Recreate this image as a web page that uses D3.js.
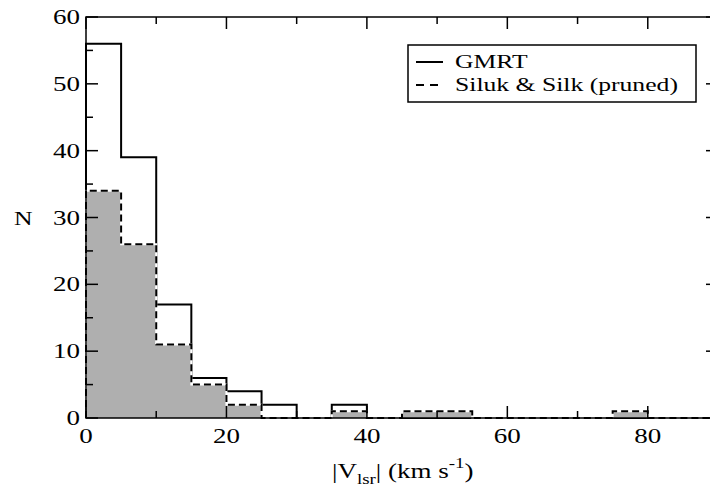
<!DOCTYPE html>
<html><head><meta charset="utf-8">
<script src="https://cdn.jsdelivr.net/npm/d3@7"></script>
<style>body{margin:0;background:#fff}svg{display:block}text{font-family:"Liberation Serif","Times New Roman",serif;fill:#000}</style>
</head><body>
<svg id="c" width="710" height="499"></svg>
<script>
const binEdges = [0,5,10,15,20,25,30,35,40,45,50,55,60,65,70,75,80,85,90];
const gmrtCounts = [56,39,17,6,4,2,0,2,0,0,0,0,0,0,0,0,0,0];
const silukCounts = [34,26,11,5,2,0,0,1,0,1,1,0,0,0,0,1,0,0];
const xTicks = [0,20,40,60,80];
const yTicks = [0,10,20,30,40,50,60];
const legendLabels = ["GMRT","Siluk & Silk (pruned)"];
const xLabelParts = ["|V","lsr","| (km s","-1",")"];
const yLabel = "N";

const SX = 1.35;
const svg = d3.select("#c");
const x = d3.scaleLinear().domain([0,90]).range([86,718]);
const y = d3.scaleLinear().domain([0,60]).range([418,17]);

function stepPts(counts){
  const p=[[binEdges[0],0]];
  counts.forEach((c,i)=>{p.push([binEdges[i],c]);p.push([binEdges[i+1],c]);});
  p.push([binEdges[binEdges.length-1],0]);
  return p;
}
const line = d3.line().x(d=>x(d[0])).y(d=>y(d[1]));

// GMRT
svg.append("path").attr("d",line(stepPts(gmrtCounts))).attr("fill","none").attr("stroke","#000").attr("stroke-width",2);
// Siluk fill
svg.append("path").attr("d",line(stepPts(silukCounts))+"Z").attr("fill","#afafaf").attr("stroke","none");
svg.append("path").attr("d",line(stepPts(silukCounts))).attr("fill","none").attr("stroke","#fff").attr("stroke-width",2);
svg.append("path").attr("d",line(stepPts(silukCounts))).attr("fill","none").attr("stroke","#000").attr("stroke-width",2).attr("stroke-dasharray","7,4");

// frame
svg.append("rect").attr("x",x(0)).attr("y",y(60)).attr("width",x(90)-x(0)).attr("height",y(0)-y(60))
  .attr("fill","none").attr("stroke","#000").attr("stroke-width",1.5);

// ticks
const tg = svg.append("g").attr("stroke","#000").attr("stroke-width",1.5);
d3.range(0,91,10).forEach(v=>{
  const L = v%20===0?12:7;
  tg.append("line").attr("x1",x(v)).attr("x2",x(v)).attr("y1",y(0)).attr("y2",y(0)-L);
  tg.append("line").attr("x1",x(v)).attr("x2",x(v)).attr("y1",y(60)).attr("y2",y(60)+L);
});
d3.range(0,61,5).forEach(v=>{
  const L = v%10===0?12:7;
  tg.append("line").attr("x1",x(0)).attr("x2",x(0)+L).attr("y1",y(v)).attr("y2",y(v));
  tg.append("line").attr("x1",x(90)).attr("x2",x(90)-L).attr("y1",y(v)).attr("y2",y(v));
});

function txt(px,py,s,size,anchor){
  return svg.append("text").attr("transform",`translate(${px},${py}) scale(${SX},1)`)
    .attr("font-size",size).attr("text-anchor",anchor||"start").text(s);
}
yTicks.forEach(v=>txt(80,y(v)+7,v,20,"end"));
xTicks.forEach(v=>txt(x(v),443,v,20,"middle"));
txt(14,225,yLabel,19,"start");

// x axis title
const t = svg.append("text").attr("transform",`translate(332,478) scale(${SX},1)`).attr("font-size",20);
t.append("tspan").text(xLabelParts[0]);
t.append("tspan").attr("font-size",14).attr("dy",6).text(xLabelParts[1]);
t.append("tspan").attr("dy",-6).text(xLabelParts[2]);
t.append("tspan").attr("font-size",14).attr("dy",-10).text(xLabelParts[3]);
t.append("tspan").attr("dy",10).text(xLabelParts[4]);

// legend
svg.append("rect").attr("x",408).attr("y",45).attr("width",288).attr("height",57).attr("fill","#fff").attr("stroke","#000").attr("stroke-width",1.5);
svg.append("line").attr("x1",416).attr("x2",443).attr("y1",62).attr("y2",62).attr("stroke","#000").attr("stroke-width",2);
svg.append("line").attr("x1",416).attr("x2",438).attr("y1",85).attr("y2",85).attr("stroke","#000").attr("stroke-width",2).attr("stroke-dasharray","8,6");
txt(455,68,legendLabels[0],19);
txt(455,91,legendLabels[1],19);
</script>
</body></html>
